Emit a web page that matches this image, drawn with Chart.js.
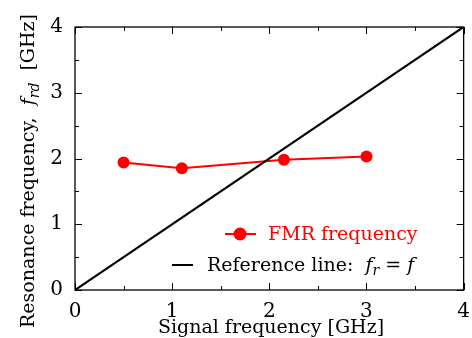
<!DOCTYPE html>
<html>
<head>
<meta charset="utf-8">
<script src="https://cdn.jsdelivr.net/npm/chart.js@4"></script>
<style>
  html, body { margin: 0; padding: 0; background: #fff; }
</style>
</head>
<body>
<canvas id="fmrChart" width="472" height="338"></canvas>
<script>
// Datos
const signalFreq = [0.5, 1.1, 2.15, 3.0];
const fmrFreq = [1.94, 1.85, 1.98, 2.03];
const refSignal = [0, 4];
const refResonance = [0, 4];
const axisTicks = [0, 1, 2, 3, 4];

const SERIF = '"DejaVu Serif", serif';

// marco con marcas hacia adentro en los cuatro lados
const framePlugin = {
    id: 'frame',
    afterDatasetsDraw(chart) {
        const { ctx, chartArea: a, scales: { x, y } } = chart;
        ctx.save();
        ctx.strokeStyle = '#000';
        ctx.lineWidth = 1.3;
        ctx.strokeRect(a.left, a.top, a.right - a.left, a.bottom - a.top);
        ctx.lineWidth = 1;
        for (let v = 0; v <= 4; v += 0.5) {
            const len = Number.isInteger(v) ? 7 : 4;
            const px = Math.round(x.getPixelForValue(v)) + 0.5;
            const py = Math.round(y.getPixelForValue(v)) + 0.5;
            ctx.beginPath();
            ctx.moveTo(px, a.bottom); ctx.lineTo(px, a.bottom - len);
            ctx.moveTo(px, a.top); ctx.lineTo(px, a.top + len);
            ctx.moveTo(a.left, py); ctx.lineTo(a.left + len, py);
            ctx.moveTo(a.right, py); ctx.lineTo(a.right - len, py);
            ctx.stroke();
        }
        ctx.restore();
    }
};

// títulos de ejes y leyenda con cursiva y subíndices
const labelsPlugin = {
    id: 'labels',
    afterDraw(chart) {
        const { ctx } = chart;
        ctx.save();
        ctx.fillStyle = '#000';
        ctx.textBaseline = 'alphabetic';

        // eje x
        ctx.font = '19px ' + SERIF;
        ctx.textAlign = 'center';
        ctx.fillText('Signal frequency [GHz]', 271, 333);

        // eje y (rotado)
        ctx.textAlign = 'left';
        const parts = [
            { t: 'Resonance frequency,  ', f: '19px ' + SERIF, dy: 0 },
            { t: 'f', f: 'italic 19px ' + SERIF, dy: 0 },
            { t: 'rd', f: 'italic 14px ' + SERIF, dy: 5 },
            { t: '  [GHz]', f: '19px ' + SERIF, dy: 0 }
        ];
        let total = 0;
        parts.forEach(p => { ctx.font = p.f; p.w = ctx.measureText(p.t).width; total += p.w; });
        ctx.translate(34, 171);
        ctx.rotate(-Math.PI / 2);
        let cx = -total / 2;
        parts.forEach(p => { ctx.font = p.f; ctx.fillText(p.t, cx, p.dy); cx += p.w; });
        ctx.restore();

        // leyenda
        ctx.save();
        ctx.textBaseline = 'middle';
        ctx.textAlign = 'left';
        ctx.strokeStyle = '#ff0000';
        ctx.fillStyle = '#ff0000';
        ctx.lineWidth = 2;
        ctx.beginPath(); ctx.moveTo(225, 234); ctx.lineTo(256, 234); ctx.stroke();
        ctx.beginPath(); ctx.arc(240, 234, 6.5, 0, Math.PI * 2); ctx.fill();
        ctx.font = '19px ' + SERIF;
        ctx.fillText('FMR frequency', 268, 235);

        ctx.strokeStyle = '#000';
        ctx.fillStyle = '#000';
        ctx.beginPath(); ctx.moveTo(172, 265); ctx.lineTo(193, 265); ctx.stroke();
        let lx = 207;
        const leg = [
            { t: 'Reference line:  ', f: '19px ' + SERIF, dy: 0 },
            { t: 'f', f: 'italic 19px ' + SERIF, dy: 0 },
            { t: 'r', f: 'italic 14px ' + SERIF, dy: 5 },
            { t: ' = ', f: '19px ' + SERIF, dy: 0 },
            { t: 'f', f: 'italic 19px ' + SERIF, dy: 0 }
        ];
        leg.forEach(p => {
            ctx.font = p.f;
            ctx.fillText(p.t, lx, 266 + p.dy);
            lx += ctx.measureText(p.t).width;
        });
        ctx.restore();
    }
};

const tickFont = { family: SERIF, size: 20 };

new Chart(document.getElementById('fmrChart').getContext('2d'), {
    type: 'scatter',
    data: {
        datasets: [
            {
                label: 'Reference line: fr = f',
                data: refSignal.map((v, i) => ({ x: v, y: refResonance[i] })),
                showLine: true,
                borderColor: '#000',
                borderWidth: 2.2,
                pointRadius: 0,
                order: 0
            },
            {
                label: 'FMR frequency',
                data: signalFreq.map((v, i) => ({ x: v, y: fmrFreq[i] })),
                showLine: true,
                borderColor: '#ff0000',
                backgroundColor: '#ff0000',
                borderWidth: 2,
                pointRadius: 6,
                pointBorderWidth: 0,
                order: 1
            }
        ]
    },
    options: {
        responsive: false,
        animation: false,
        layout: { padding: { top: 27, right: 7, left: 0, bottom: 0 } },
        plugins: {
            legend: { display: false },
            tooltip: { enabled: false }
        },
        scales: {
            x: {
                type: 'linear',
                min: 0, max: 4,
                afterBuildTicks: s => { s.ticks = axisTicks.map(v => ({ value: v })); },
                afterFit: s => { s.height = 48; },
                grid: { display: false },
                border: { display: false },
                ticks: { font: tickFont, color: '#000', padding: 2, maxRotation: 0 }
            },
            y: {
                type: 'linear',
                min: 0, max: 4,
                afterBuildTicks: s => { s.ticks = axisTicks.map(v => ({ value: v })); },
                afterFit: s => { s.width = 75; },
                grid: { display: false },
                border: { display: false },
                ticks: { font: tickFont, color: '#000', padding: 4 }
            }
        }
    },
    plugins: [framePlugin, labelsPlugin]
});
</script>
</body>
</html>
